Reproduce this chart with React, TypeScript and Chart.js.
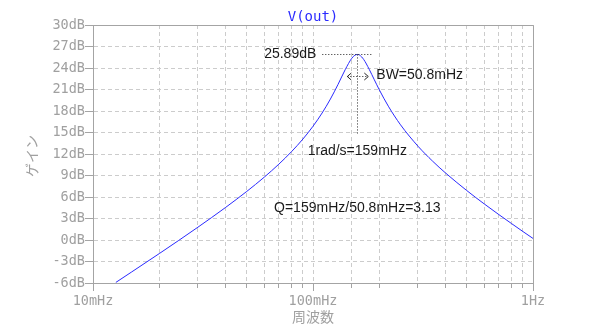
import React, { useEffect, useRef } from 'react';
import { Chart, registerables } from 'chart.js';
Chart.register(...registerables);

const FREQ_HZ = [0.0127, 0.015, 0.02, 0.03, 0.04, 0.05, 0.06, 0.07, 0.08, 0.09, 0.1, 0.11, 0.12, 0.13, 0.14, 0.15, 0.155, 0.159, 0.163, 0.17, 0.18, 0.19, 0.2, 0.22, 0.25, 0.3, 0.35, 0.4, 0.5, 0.6, 0.7, 0.8, 0.9, 1.0];
const GAIN_DB = [-5.92, -4.45, -1.9, 1.79, 4.53, 6.78, 8.76, 10.59, 12.35, 14.09, 15.87, 17.72, 19.67, 21.72, 23.75, 25.35, 25.78, 25.89, 25.79, 25.19, 23.83, 22.36, 20.98, 18.67, 16.07, 13.09, 10.99, 9.36, 6.9, 5.04, 3.54, 2.28, 1.18, 0.22];

const SERIES_NAME = 'V(out)';
const X_AXIS_TITLE = '周波数';
const Y_AXIS_TITLE = 'ゲイン';
const X_MAJOR = [0.01, 0.1, 1];
const X_MAJOR_LABELS = ['10mHz', '100mHz', '1Hz'];
const Y_MIN = -6;
const Y_MAX = 30;
const Y_STEP = 3;
const X_MIN = 0.01;
const X_MAX = 1;

const PEAK_FREQ = 0.159;
const PEAK_DB = 25.89;
const BW_LEVEL_DB = 22.89;
const Q_NOTE_DB = 4.5;
const NOTE_PEAK = '25.89dB';
const NOTE_BW = 'BW=50.8mHz';
const NOTE_F0 = '1rad/s=159mHz';
const NOTE_Q = 'Q=159mHz/50.8mHz=3.13';

const BLUE = '#2a2aff';
const AXIS_GREY = '#a4a4a4';
const GRID_GREY = '#cccccc';
const TEXT_GREY = '#a0a0a0';
const MONO = '"DejaVu Sans Mono", monospace';
const SANS = '"Liberation Sans", Arial, sans-serif';

const overlay = {
  id: 'overlay',
  afterDraw(chart: any) {
    const ctx = chart.ctx as CanvasRenderingContext2D;
    const { left, right, top, bottom } = chart.chartArea;
    const xs = chart.scales.x;
    const ys = chart.scales.y;
    ctx.save();
    ctx.strokeStyle = AXIS_GREY;
    ctx.lineWidth = 1;
    ctx.setLineDash([]);
    ctx.beginPath();
    ctx.moveTo(left, top + 0.5);
    ctx.lineTo(right + 0.5, top + 0.5);
    ctx.lineTo(right + 0.5, bottom);
    ctx.stroke();
    ctx.beginPath();
    for (const v of X_MAJOR) {
      const px = Math.round(xs.getPixelForValue(v)) + 0.5;
      ctx.moveTo(px, bottom);
      ctx.lineTo(px, bottom + 8);
    }
    ctx.stroke();

    ctx.fillStyle = BLUE;
    ctx.font = `14px ${MONO}`;
    ctx.textAlign = 'center';
    ctx.textBaseline = 'middle';
    ctx.fillText(SERIES_NAME, (left + right) / 2, 17);

    ctx.fillStyle = TEXT_GREY;
    ctx.font = `14px "Noto Sans CJK JP", sans-serif`;
    ctx.fillText(X_AXIS_TITLE, (left + right) / 2, 317);
    ctx.save();
    ctx.translate(32, (top + bottom) / 2 + 2);
    ctx.rotate(-Math.PI / 2);
    ctx.fillText(Y_AXIS_TITLE, 0, 0);
    ctx.restore();

    const px = xs.getPixelForValue(PEAK_FREQ);
    const py = ys.getPixelForValue(PEAK_DB);
    const bwY = ys.getPixelForValue(BW_LEVEL_DB);
    ctx.strokeStyle = '#222';
    ctx.lineWidth = 1;
    ctx.setLineDash([1, 2]);
    ctx.beginPath();
    ctx.moveTo(px - 35, Math.round(py) + 0.5);
    ctx.lineTo(px + 15, Math.round(py) + 0.5);
    ctx.moveTo(Math.round(px) + 0.5, py);
    ctx.lineTo(Math.round(px) + 0.5, py + 79);
    ctx.moveTo(px - 10, Math.round(bwY) + 0.5);
    ctx.lineTo(px + 11, Math.round(bwY) + 0.5);
    ctx.stroke();
    ctx.setLineDash([]);
    ctx.beginPath();
    const ay = Math.round(bwY) + 0.5;
    ctx.moveTo(px - 6, ay - 3.5);
    ctx.lineTo(px - 10, ay);
    ctx.lineTo(px - 6, ay + 3.5);
    ctx.moveTo(px + 7, ay - 3.5);
    ctx.lineTo(px + 11, ay);
    ctx.lineTo(px + 7, ay + 3.5);
    ctx.stroke();

    ctx.fillStyle = '#1a1a1a';
    ctx.font = `14px ${SANS}`;
    ctx.textBaseline = 'middle';
    ctx.textAlign = 'right';
    ctx.fillText(NOTE_PEAK, px - 41, py);
    ctx.textAlign = 'left';
    ctx.fillText(NOTE_BW, px + 19, bwY - 1);
    ctx.textAlign = 'center';
    ctx.fillText(NOTE_F0, px, py + 97);
    ctx.fillText(NOTE_Q, px, ys.getPixelForValue(Q_NOTE_DB));
    ctx.restore();
  },
};

export default function App() {
  const ref = useRef<HTMLCanvasElement | null>(null);
  useEffect(() => {
    if (!ref.current) return;
    const chart = new Chart(ref.current, {
      type: 'line',
      data: {
        datasets: [
          {
            label: SERIES_NAME,
            data: FREQ_HZ.map((f, i) => ({ x: f, y: GAIN_DB[i] })),
            borderColor: BLUE,
            borderWidth: 1,
            pointRadius: 0,
            cubicInterpolationMode: 'monotone',
            fill: false,
          },
        ],
      },
      options: {
        animation: false,
        responsive: false,
        devicePixelRatio: 1,
        layout: { padding: { left: 0, top: 25, right: 67, bottom: 0 } },
        plugins: { legend: { display: false }, tooltip: { enabled: false }, title: { display: false } },
        scales: {
          x: {
            type: 'logarithmic',
            min: X_MIN,
            max: X_MAX,
            afterFit: (s: any) => {
              s.height = 49;
            },
            border: { display: true, color: AXIS_GREY, width: 1, dash: [4, 3] },
            grid: {
              color: GRID_GREY,
              tickBorderDash: [],
              tickColor: AXIS_GREY,
              tickLength: 5,
              drawTicks: true,
            },
            ticks: {
              autoSkip: false,
              maxRotation: 0,
              padding: 5,
              color: TEXT_GREY,
              font: { family: MONO, size: 13.5 },
              callback: (value: any) => {
                const idx = X_MAJOR.findIndex((m) => Math.abs(m - Number(value)) / m < 1e-6);
                return idx >= 0 ? X_MAJOR_LABELS[idx] : '';
              },
            },
          },
          y: {
            type: 'linear',
            min: Y_MIN,
            max: Y_MAX,
            afterFit: (s: any) => {
              s.width = 93;
            },
            border: { display: true, color: AXIS_GREY, width: 1, dash: [4, 3] },
            grid: {
              color: GRID_GREY,
              tickBorderDash: [],
              tickColor: AXIS_GREY,
              tickLength: 8,
            },
            ticks: {
              stepSize: Y_STEP,
              padding: 0,
              color: TEXT_GREY,
              font: { family: MONO, size: 13.5 },
              callback: (value: any) => `${value}dB`,
            },
          },
        },
      },
      plugins: [overlay],
    } as any);
    return () => chart.destroy();
  }, []);
  return (
    <div style={{ position: 'fixed', left: 0, top: 0, width: 600, height: 332, background: '#fff' }}>
      <canvas ref={ref} width={600} height={332} />
    </div>
  );
}
